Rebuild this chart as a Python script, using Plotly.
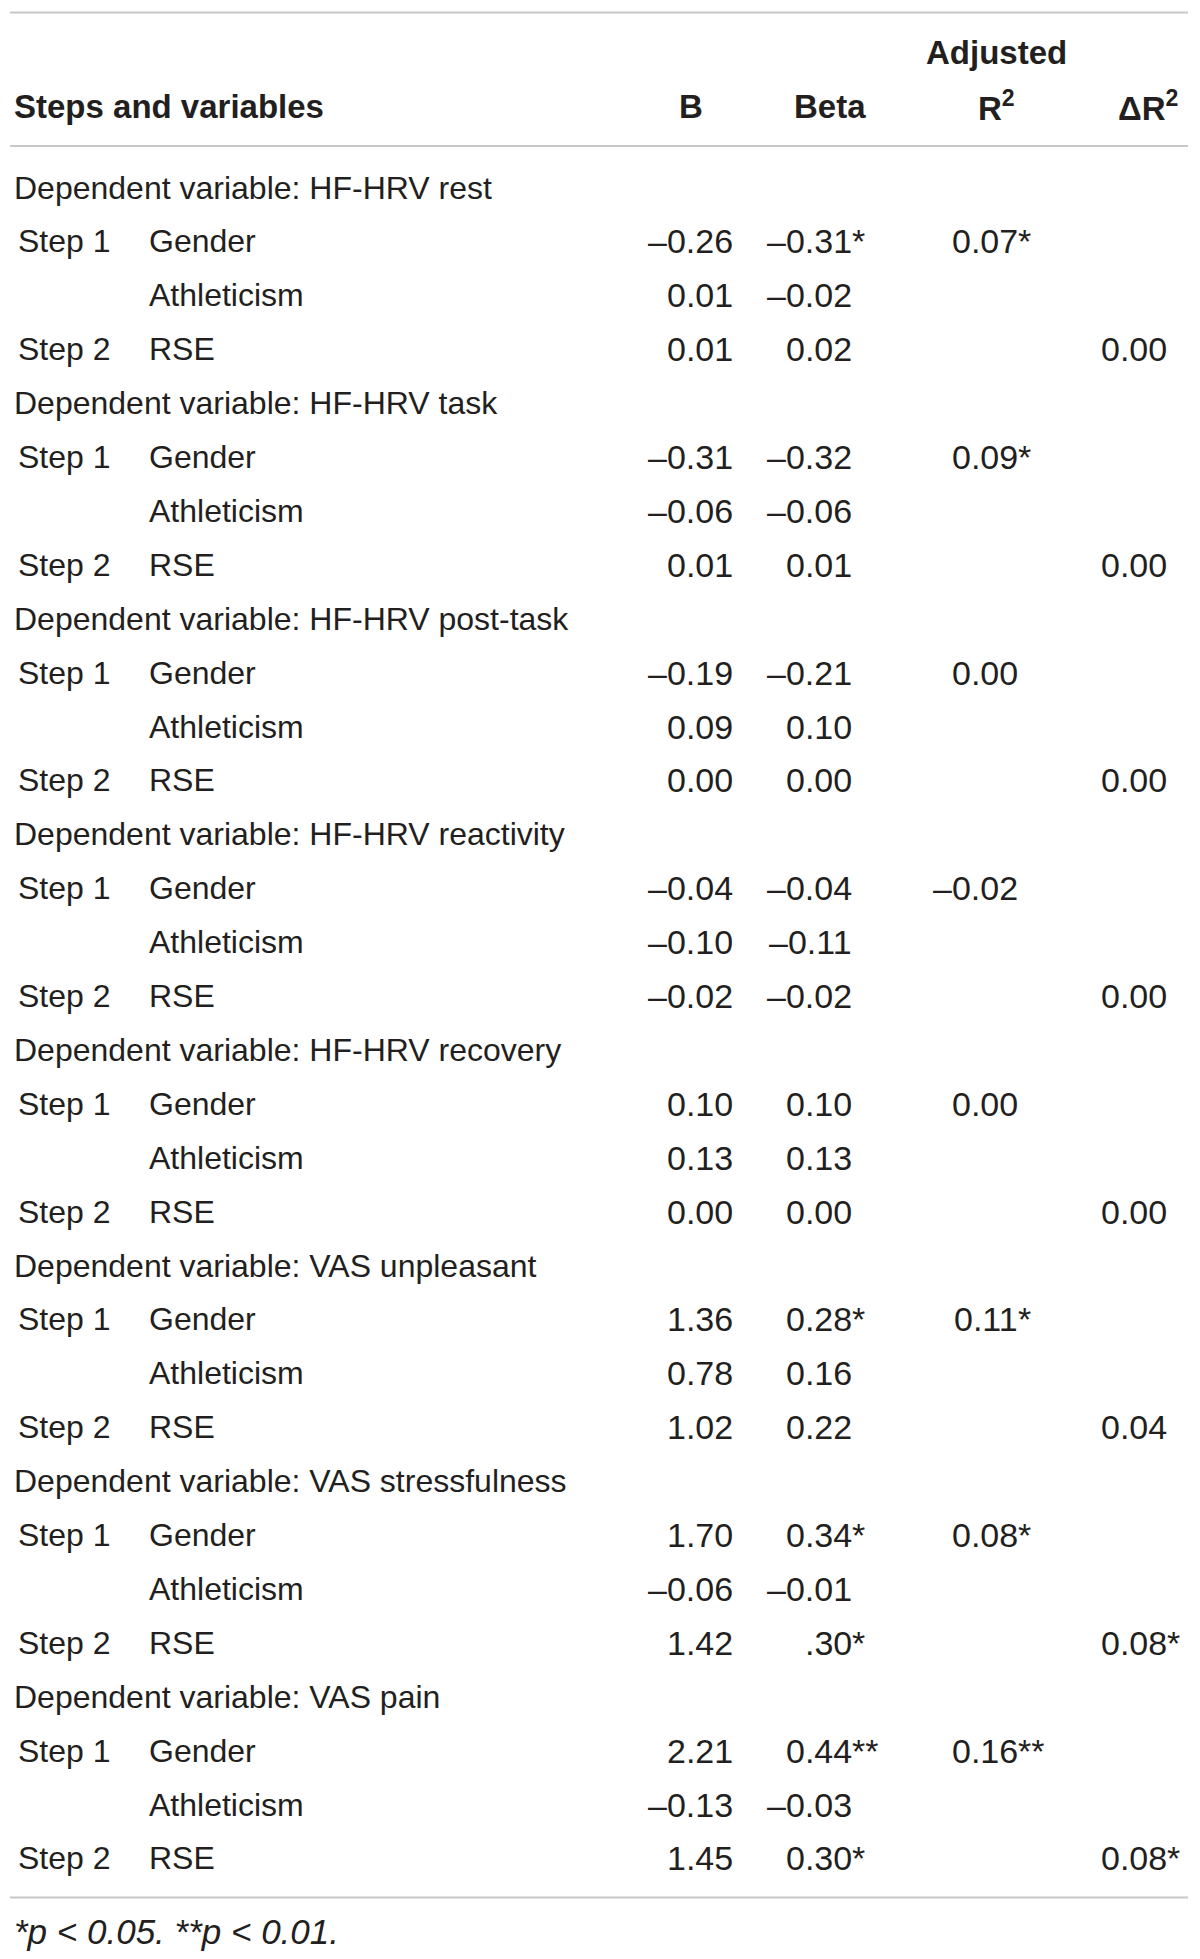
import plotly.graph_objects as go

# table content
dependents = ["HF-HRV rest", "HF-HRV task", "HF-HRV post-task", "HF-HRV reactivity",
              "HF-HRV recovery", "VAS unpleasant", "VAS stressfulness", "VAS pain"]
steps = ["Step 1", "", "Step 2"]
predictors = ["Gender", "Athleticism", "RSE"]

b_values = [
    ["–0.26", "0.01", "0.01"],
    ["–0.31", "–0.06", "0.01"],
    ["–0.19", "0.09", "0.00"],
    ["–0.04", "–0.10", "–0.02"],
    ["0.10", "0.13", "0.00"],
    ["1.36", "0.78", "1.02"],
    ["1.70", "–0.06", "1.42"],
    ["2.21", "–0.13", "1.45"],
]
beta_values = [
    ["–0.31", "–0.02", "0.02"],
    ["–0.32", "–0.06", "0.01"],
    ["–0.21", "0.10", "0.00"],
    ["–0.04", "–0.11", "–0.02"],
    ["0.10", "0.13", "0.00"],
    ["0.28", "0.16", "0.22"],
    ["0.34", "–0.01", ".30"],
    ["0.44", "–0.03", "0.30"],
]
beta_stars = [
    ["*", "", ""], ["", "", ""], ["", "", ""], ["", "", ""],
    ["", "", ""], ["*", "", ""], ["*", "", "*"], ["**", "", "*"],
]
adj_r2 = ["0.07", "0.09", "0.00", "–0.02", "0.00", "0.11", "0.08", "0.16"]
adj_r2_stars = ["*", "*", "", "", "", "*", "*", "**"]
delta_r2 = ["0.00", "0.00", "0.00", "0.00", "0.00", "0.04", "0.08", "0.08"]
delta_r2_stars = ["", "", "", "", "", "", "*", "*"]

header_cols = ["B", "Beta", "R<sup>2</sup>", "ΔR<sup>2</sup>"]
footnote = "<i>*p &lt; 0.05. **p &lt; 0.01.</i>"

# layout (page pixels across, row units down)
W, H = 1200, 1959
PAD = 8  # the page body margin the figure sits inside
ROW0, ROW_H = 187.5, 53.9
X_DEP, X_STEP, X_PRED = 12, 16, 147
X_B, X_BETA, X_ADJ, X_DELTA = 735, 854, 1020, 1169
HEAD_X = [691, 830, 996, 1148]
FONT = "Liberation Sans, Arial, sans-serif"
INK = "#231f20"
RULE = "#c8c8c8"
SIZE = 32
NUM_SIZE = 34
HEAD_SIZE = 33


def row_of(px):
    return (px - ROW0) / ROW_H


annotations = []


def put(x, y, text, anchor="left", bold=False, size=SIZE, shift=0):
    annotations.append(dict(
        x=x, y=y, xref="x", yref="y", text=text, showarrow=False,
        xanchor=anchor, yanchor="middle", align=anchor, xshift=shift,
        font=dict(family=FONT, size=size, color=INK, weight=700 if bold else 400),
    ))


def star(x, y, text):
    put(x, y, text, size=NUM_SIZE, shift=-4)


# header
put(12, row_of(106), "Steps and variables", bold=True, size=HEAD_SIZE)
put(HEAD_X[2], row_of(52.5), "Adjusted", anchor="center", bold=True, size=HEAD_SIZE)
for hx, label in zip(HEAD_X, header_cols):
    put(hx, row_of(106), label, anchor="center", bold=True, size=HEAD_SIZE)

# body
r = 0
for g, dep in enumerate(dependents):
    put(X_DEP, r, "Dependent variable: " + dep)
    r += 1
    for k in range(3):
        if steps[k]:
            put(X_STEP, r, steps[k])
        put(X_PRED, r, predictors[k])
        put(X_B, r, b_values[g][k], anchor="right", size=NUM_SIZE)
        put(X_BETA, r, beta_values[g][k], anchor="right", size=NUM_SIZE)
        if beta_stars[g][k]:
            star(X_BETA, r, beta_stars[g][k])
        if k == 0:
            put(X_ADJ, r, adj_r2[g], anchor="right", size=NUM_SIZE)
            if adj_r2_stars[g]:
                star(X_ADJ, r, adj_r2_stars[g])
        if k == 2:
            put(X_DELTA, r, delta_r2[g], anchor="right", size=NUM_SIZE)
            if delta_r2_stars[g]:
                star(X_DELTA, r, delta_r2_stars[g])
        r += 1

put(12, row_of(1931), footnote, size=35)

shapes = [
    dict(type="line", xref="x", yref="y", x0=10, x1=1188, y0=row_of(py), y1=row_of(py),
         line=dict(color=RULE, width=2))
    for py in (12.5, 146, 1897.5)
]

fig = go.Figure()
fig.update_layout(
    width=W - PAD, height=H - PAD,
    margin=dict(l=0, r=0, t=0, b=0),
    paper_bgcolor="white", plot_bgcolor="white",
    showlegend=False,
    xaxis=dict(range=[PAD, W], visible=False, fixedrange=True),
    yaxis=dict(range=[row_of(H), row_of(PAD)], visible=False, fixedrange=True),
    annotations=annotations,
    shapes=shapes,
)

fig.write_html("out.html", config={"displayModeBar": False})
